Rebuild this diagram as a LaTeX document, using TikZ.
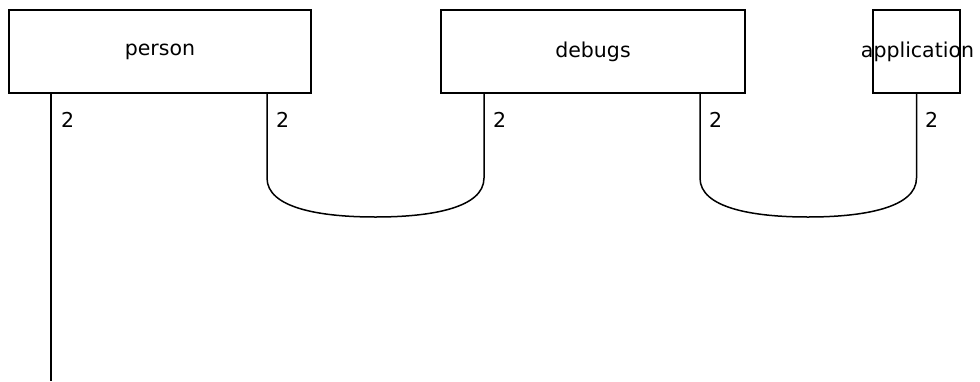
\documentclass[tikz,border=0pt]{standalone}
\usepackage{fontspec}
\setmainfont{DejaVu Sans}
\begin{document}
\begin{tikzpicture}[x=1pt,y=-1pt,
  entity/.style={draw,line width=1.5pt,inner sep=0pt,outer sep=0pt,font=\fontsize{20.5}{24}\selectfont},
  conn/.style={line width=1.5pt},
  card/.style={font=\fontsize{20.5}{24}\selectfont,anchor=west,inner sep=0pt}]
\useasboundingbox (0,0) rectangle (980,381);
\node[entity,minimum width=302pt,minimum height=83pt] (person) at (160,51.5) {person};
\node[entity,minimum width=304pt,minimum height=83pt] (debugs) at (593,51.5) {debugs};
\node[entity,minimum width=87pt,minimum height=83pt] (app) at (916.5,51.5) {};
\node[font=\fontsize{20.5}{24}\selectfont,inner sep=0pt] (applabel) at (917.5,51.5) {application};
% person left leg
\coordinate (pl) at ([xshift=42pt]person.south west);
\coordinate (pend) at (51,381);
\draw[conn] (pl) -- (pend);
\node[card] (c1) at (61,120) {2};
% person - debugs
\coordinate (pr) at ([xshift=-44pt]person.south east);
\coordinate (dl) at ([xshift=43pt]debugs.south west);
\draw[conn] (pr) -- (267,178) .. controls (267,208) and (320,217) .. (375.5,217)
  .. controls (431,217) and (484,208) .. (484,178) -- (dl);
\node[card] (c2) at (276,120) {2};
\node[card] (c3) at (493,120) {2};
% debugs - application
\coordinate (dr) at ([xshift=-45pt]debugs.south east);
\coordinate (ab) at (app.south);
\draw[conn] (dr) -- (700,178) .. controls (700,208) and (753,217) .. (808,217)
  .. controls (863,217) and (916.5,208) .. (916.5,178) -- (ab);
\node[card] (c4) at (709,120) {2};
\node[card] (c5) at (925,120) {2};
\end{tikzpicture}
\end{document}
